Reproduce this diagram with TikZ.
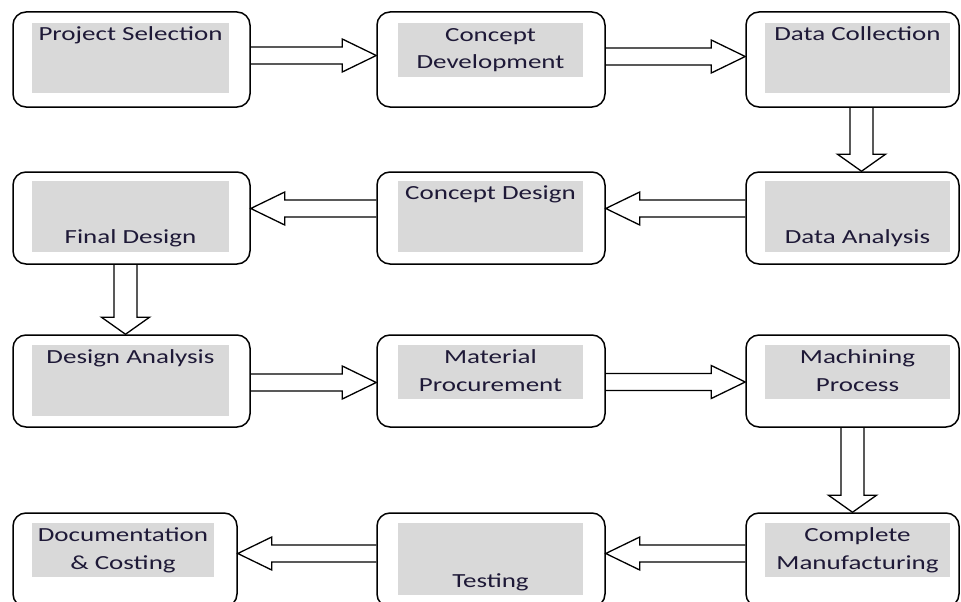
\documentclass[tikz,border=0pt]{standalone}
\usepackage{fontspec}
\setmainfont{Carlito}[FakeStretch=1.35]
\usetikzlibrary{calc}
\definecolor{boxgray}{RGB}{217,217,217}
\definecolor{txtnavy}{RGB}{30,25,55}

\begin{document}
\begin{tikzpicture}[x=1pt,y=-1pt,
	stage/.style={draw, line width=1.5pt, rounded corners=13pt, inner sep=0pt},
	shade/.style={fill=boxgray, inner sep=0pt},
	lbl/.style={text=txtnavy, font=\fontsize{20}{28}\selectfont, align=center, inner sep=0pt, anchor=base},
	% hollow block arrow: shaft half width, head half width, head length
	blockarrow/.style n args={3}{draw, line width=1.3pt, line join=miter,
		to path={let \p1=(\tikztostart), \p2=(\tikztotarget),
			\n1={veclen(\x2-\x1,\y2-\y1)}, \n2={(\x2-\x1)/\n1}, \n3={(\y2-\y1)/\n1},
			\n4={\n1-#3} in
			({\x1-#1*\n3},{\y1+#1*\n2})
			-- ({\x1+\n4*\n2-#1*\n3},{\y1+\n4*\n3+#1*\n2})
			-- ({\x1+\n4*\n2-#2*\n3},{\y1+\n4*\n3+#2*\n2})
			-- (\x2,\y2)
			-- ({\x1+\n4*\n2+#2*\n3},{\y1+\n4*\n3-#2*\n2})
			-- ({\x1+\n4*\n2+#1*\n3},{\y1+\n4*\n3-#1*\n2})
			-- ({\x1+#1*\n3},{\y1-#1*\n2})}},
	harrow/.style={blockarrow={8.5}{16.5}{34}},
	varrow/.style={blockarrow={11.5}{24}{17}}]
	\useasboundingbox (0,0) rectangle (961,602);
	% Row 1
	\node[stage, minimum width=237pt, minimum height=95pt] (sel) at (131.5,59.5) {};
	\node[shade, minimum width=197pt, minimum height=70pt] (sel-g) at (130.5,58) {};
	\node[lbl] (sel-t) at (130.5,41) {Project Selection};
	\node[stage, minimum width=228pt, minimum height=95pt] (cdev) at (491,59.5) {};
	\node[shade, minimum width=185pt, minimum height=54pt] (cdev-g) at (490.5,50) {};
	\node[lbl] (cdev-t) at (490.5,69) {Concept\\Development};
	\node[stage, minimum width=213pt, minimum height=95pt] (dcol) at (852.5,59.5) {};
	\node[shade, minimum width=185pt, minimum height=70pt] (dcol-g) at (857.5,58) {};
	\node[lbl] (dcol-t) at (857.5,41) {Data Collection};
	% Row 2
	\node[stage, minimum width=237pt, minimum height=92pt] (fdes) at (131.5,218) {};
	\node[shade, minimum width=197pt, minimum height=71pt] (fdes-g) at (130.5,216.5) {};
	\node[lbl] (fdes-t) at (130.5,243) {Final Design};
	\node[stage, minimum width=228pt, minimum height=92pt] (cdes) at (491,218) {};
	\node[shade, minimum width=185pt, minimum height=71pt] (cdes-g) at (490.5,216.5) {};
	\node[lbl] (cdes-t) at (490.5,199) {Concept Design};
	\node[stage, minimum width=213pt, minimum height=92pt] (dana) at (852.5,218) {};
	\node[shade, minimum width=185pt, minimum height=71pt] (dana-g) at (857.5,216.5) {};
	\node[lbl] (dana-t) at (857.5,243) {Data Analysis};
	% Row 3
	\node[stage, minimum width=237pt, minimum height=92pt] (desa) at (131.5,381) {};
	\node[shade, minimum width=197pt, minimum height=71pt] (desa-g) at (130.5,380.5) {};
	\node[lbl] (desa-t) at (130.5,363) {Design Analysis};
	\node[stage, minimum width=228pt, minimum height=92pt] (matp) at (491,381) {};
	\node[shade, minimum width=185pt, minimum height=54pt] (matp-g) at (490.5,372) {};
	\node[lbl] (matp-t) at (490.5,391) {Material\\Procurement};
	\node[stage, minimum width=213pt, minimum height=92pt] (mach) at (852.5,381) {};
	\node[shade, minimum width=185pt, minimum height=54pt] (mach-g) at (857.5,372) {};
	\node[lbl] (mach-t) at (857.5,391) {Machining\\Process};
	% Row 4
	\node[stage, minimum width=224pt, minimum height=94pt] (doc) at (125,560) {};
	\node[shade, minimum width=182pt, minimum height=54pt] (doc-g) at (123,550) {};
	\node[lbl] (doc-t) at (123,569) {Documentation\\\& Costing};
	\node[stage, minimum width=228pt, minimum height=94pt] (test) at (491,560) {};
	\node[shade, minimum width=185pt, minimum height=72pt] (test-g) at (490.5,559) {};
	\node[lbl] (test-t) at (490.5,587) {Testing};
	\node[stage, minimum width=213pt, minimum height=94pt] (cman) at (852.5,560) {};
	\node[shade, minimum width=185pt, minimum height=54pt] (cman-g) at (857.5,550) {};
	\node[lbl] (cman-t) at (857.5,569) {Complete\\Manufacturing};
	% Arrows
	\draw[harrow] ([yshift=4pt]sel.east) to ([yshift=4pt]cdev.west);
	\draw[harrow] ([yshift=3pt]cdev.east) to ([yshift=3pt]dcol.west);
	\draw[varrow] ([xshift=9pt]dcol.south) to ([xshift=9pt]dana.north);
	\draw[harrow] ([yshift=9.5pt]dana.west) to ([yshift=9.5pt]cdes.east);
	\draw[harrow] ([yshift=9.5pt]cdes.west) to ([yshift=9.5pt]fdes.east);
	\draw[varrow] ([xshift=-6pt]fdes.south) to ([xshift=-6pt]desa.north);
	\draw[harrow] ([yshift=-1.5pt]desa.east) to ([yshift=-1.5pt]matp.west);
	\draw[harrow] ([yshift=-1pt]matp.east) to ([yshift=-1pt]mach.west);
	\draw[varrow] (mach.south) to (cman.north);
	\draw[harrow] ([yshift=6.5pt]cman.west) to ([yshift=6.5pt]test.east);
	\draw[harrow] ([yshift=6.5pt]test.west) to ([yshift=6.5pt]doc.east);
\end{tikzpicture}
\end{document}
